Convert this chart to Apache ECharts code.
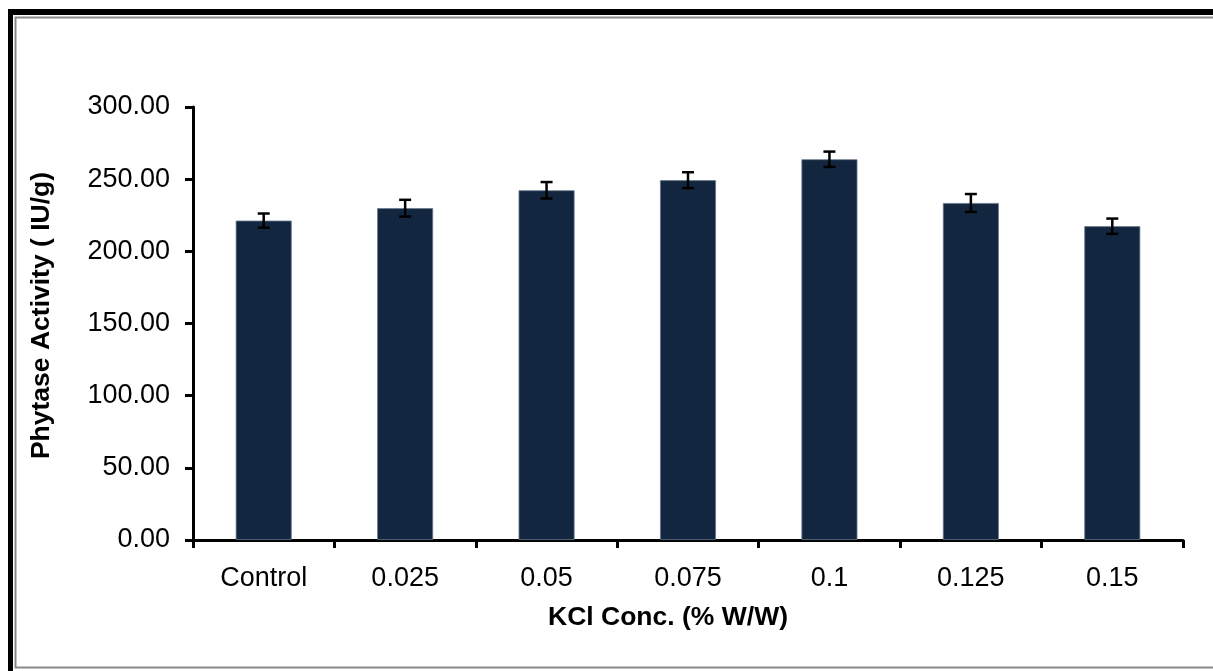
<!DOCTYPE html>
<html>
<head>
<meta charset="utf-8">
<script src="https://cdn.jsdelivr.net/npm/echarts@6/dist/echarts.min.js"></script>
<style>
html,body{margin:0;padding:0;background:#fff;}
#chart{width:1213px;height:671px;}
</style>
</head>
<body>
<div id="chart"></div>
<script>
const categories = ['Control', '0.025', '0.05', '0.075', '0.1', '0.125', '0.15'];
const activity = [221.3, 229.9, 242.3, 249.3, 263.8, 233.5, 217.4];
const errors = [4.9, 5.8, 5.7, 5.5, 5.3, 6.2, 5.3];
const yTicks = [0, 50, 100, 150, 200, 250, 300];

const FONT = '"Liberation Sans", Arial, sans-serif';
const chart = echarts.init(document.getElementById('chart'));

const errData = categories.map((c, i) => [i, activity[i] - errors[i], activity[i] + errors[i]]);

chart.setOption({
  animation: false,
  backgroundColor: '#fff',
  graphic: [
    { type: 'rect', shape: { x: 8, y: 9, width: 1205, height: 6 }, style: { fill: '#000' }, z: 100 },
    { type: 'rect', shape: { x: 8, y: 9, width: 5, height: 662 }, style: { fill: '#000' }, z: 100 },
    { type: 'rect', shape: { x: 15.5, y: 17.5, width: 1210, height: 650 }, style: { fill: 'none', stroke: '#888', lineWidth: 2 }, z: 100 }
  ],
  grid: { left: 193, right: 30, top: 107, bottom: 131, containLabel: false },
  xAxis: {
    type: 'category',
    data: categories,
    boundaryGap: true,
    name: 'KCl Conc. (% W/W)',
    nameLocation: 'middle',
    nameGap: 64,
    nameTextStyle: { fontFamily: FONT, fontSize: 26.5, fontWeight: 'bold', color: '#000', padding: [0, 40, 0, 0] },
    axisLine: { lineStyle: { color: '#000', width: 3 } },
    axisTick: { show: true, alignWithLabel: false, length: 8, inside: false, lineStyle: { color: '#000', width: 3 } },
    axisLabel: { fontFamily: FONT, fontSize: 27, color: '#000', margin: 25 },
    splitLine: { show: false }
  },
  yAxis: {
    type: 'value',
    min: yTicks[0],
    max: yTicks[yTicks.length - 1],
    interval: 50,
    name: 'Phytase Activity ( IU/g)',
    nameLocation: 'middle',
    nameGap: 138,
    nameRotate: 90,
    nameTextStyle: { fontFamily: FONT, fontSize: 26.5, fontWeight: 'bold', color: '#000', padding: [0, 0, 0, 16] },
    axisLine: { show: true, lineStyle: { color: '#000', width: 3 } },
    axisTick: { show: true, length: 8, lineStyle: { color: '#000', width: 3 } },
    axisLabel: { fontFamily: FONT, fontSize: 27, color: '#000', margin: 23, formatter: v => v.toFixed(2) },
    splitLine: { show: false }
  },
  series: [
    {
      type: 'bar',
      data: activity,
      barWidth: 56,
      itemStyle: { color: '#12263f', borderColor: '#6b7a90', borderWidth: 0.8 },
      z: 2
    },
    {
      type: 'custom',
      data: errData,
      z: 5,
      renderItem: function (params, api) {
        const x = api.value(0);
        const lo = api.coord([x, api.value(1)]);
        const hi = api.coord([x, api.value(2)]);
        const half = 6;
        const st = { stroke: '#000', lineWidth: 2.5 };
        return {
          type: 'group',
          children: [
            { type: 'line', shape: { x1: lo[0], y1: lo[1], x2: hi[0], y2: hi[1] }, style: st },
            { type: 'line', shape: { x1: lo[0] - half, y1: lo[1], x2: lo[0] + half, y2: lo[1] }, style: st },
            { type: 'line', shape: { x1: hi[0] - half, y1: hi[1], x2: hi[0] + half, y2: hi[1] }, style: st }
          ]
        };
      }
    }
  ]
});
</script>
</body>
</html>
